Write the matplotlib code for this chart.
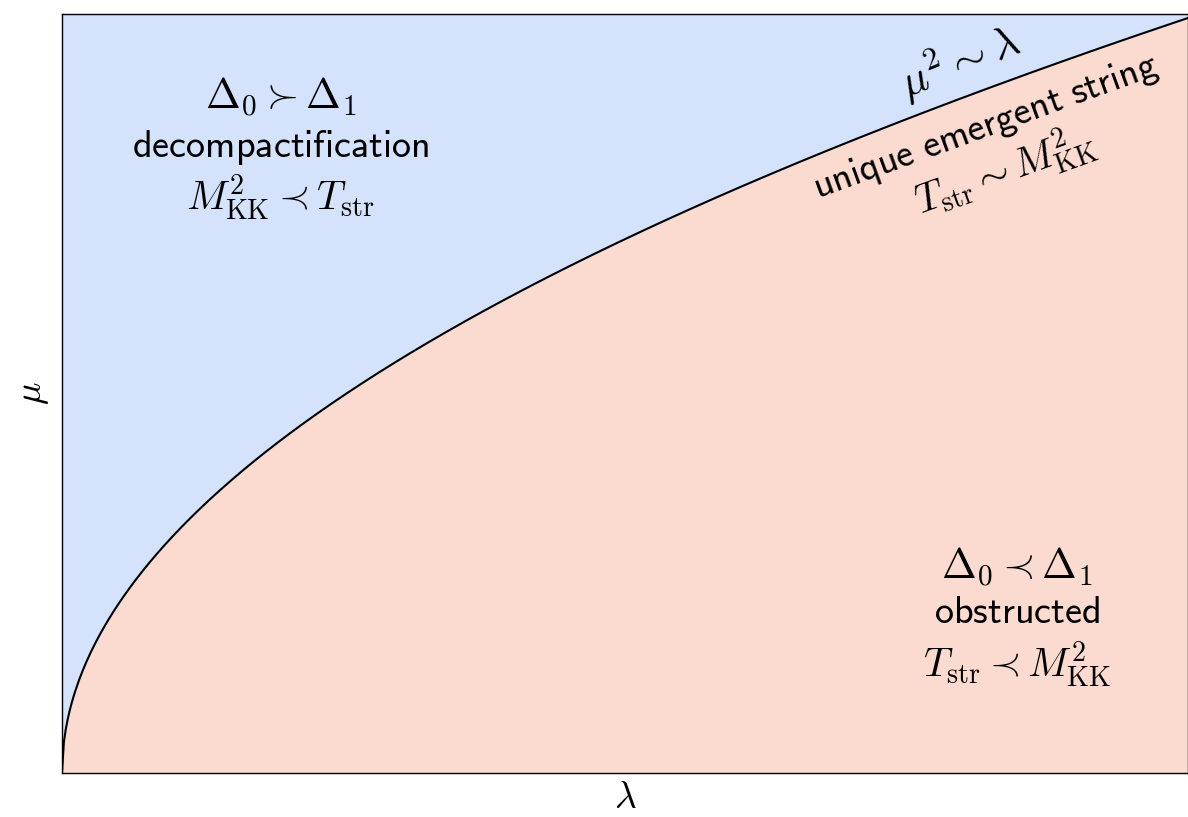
"""Phase diagram: decompactification vs obstructed regions split by mu^2 ~ lambda."""

import matplotlib

matplotlib.use("Agg")
import matplotlib.pyplot as plt  # noqa: E402
import numpy as np  # noqa: E402

plt.rcParams.update({"mathtext.fontset": "cm", "font.size": 21})

# boundary curve mu^2 ~ lambda
lam = np.linspace(0.0, 1.0, 600)
mu = np.sqrt(lam)

BLUE = "#d4e2fc"
SALMON = "#fbdbcf"

upper_lines = [r"$\Delta_0 \succ \Delta_1$", r"$\mathsf{decompactification}$",
               r"$M^2_{\mathrm{KK}} \prec T_{\mathrm{str}}$"]
lower_lines = [r"$\Delta_0 \prec \Delta_1$", r"$\mathsf{obstructed}$",
               r"$T_{\mathrm{str}} \prec M^2_{\mathrm{KK}}$"]
line_sizes = [30, 27.5, 29]

fig = plt.figure(figsize=(11.88, 8.17), dpi=100)
ax = fig.add_axes([62 / 1188, 1 - 773 / 817, 1126 / 1188, 759 / 817])
ymax = 759 / 755
ax.set_xlim(0, 1)
ax.set_ylim(0, ymax)

ax.fill_between(lam, mu, ymax, color=BLUE, lw=0)
ax.fill_between(lam, 0, mu, color=SALMON, lw=0)
ax.plot(lam, mu, color="k", lw=1.5)

ax.set_xticks([])
ax.set_yticks([])
for s in ax.spines.values():
    s.set_linewidth(1.0)

ax.set_xlabel(r"$\lambda$", fontsize=27, labelpad=5)
ax.set_ylabel(r"$\mu$", fontsize=27, labelpad=8)

for txt, y, fs in zip(upper_lines, (0.895, 0.829, 0.762), line_sizes):
    ax.text(0.194, y, txt, ha="center", va="center", fontsize=fs)
for txt, y, fs in zip(lower_lines, (0.272, 0.212, 0.143), line_sizes):
    ax.text(0.848, y, txt, ha="center", va="center", fontsize=fs)

ax.text(0.797, 0.942, r"$\mu^2 \sim \lambda$", ha="center", va="center",
        fontsize=32, rotation=22, rotation_mode="anchor")
ax.text(0.82, 0.855, r"$\mathsf{unique\ emergent\ string}$", ha="center",
        va="center", fontsize=27.5, rotation=20, rotation_mode="anchor")
ax.text(0.837, 0.797, r"$T_{\mathrm{str}} \sim M^2_{\mathrm{KK}}$", ha="center",
        va="center", fontsize=29, rotation=20, rotation_mode="anchor")

fig.savefig("out.png", dpi=100)
